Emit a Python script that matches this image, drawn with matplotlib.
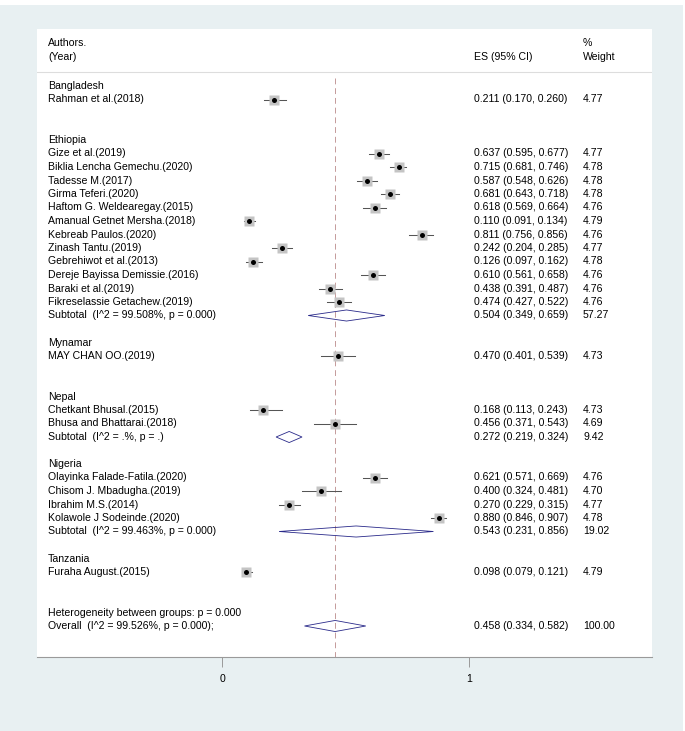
import matplotlib
matplotlib.use("Agg")
import matplotlib.pyplot as plt
from matplotlib.patches import Polygon, Rectangle

plt.rcParams['font.family'] = ['Liberation Sans', 'DejaVu Sans']

# groups in plot order
groups = ['Bangladesh', 'Ethiopia', 'Mynamar', 'Nepal', 'Nigeria', 'Tanzania']

study_names = {
    'Bangladesh': ['Rahman et al.(2018)'],
    'Ethiopia': ['Gize et al.(2019)', 'Biklia Lencha Gemechu.(2020)', 'Tadesse M.(2017)',
                 'Girma Teferi.(2020)', 'Haftom G. Weldearegay.(2015)',
                 'Amanual Getnet Mersha.(2018)', 'Kebreab Paulos.(2020)',
                 'Zinash Tantu.(2019)', 'Gebrehiwot et al.(2013)',
                 'Dereje Bayissa Demissie.(2016)', 'Baraki et al.(2019)',
                 'Fikreselassie Getachew.(2019)'],
    'Mynamar': ['MAY CHAN OO.(2019)'],
    'Nepal': ['Chetkant Bhusal.(2015)', 'Bhusa and Bhattarai.(2018)'],
    'Nigeria': ['Olayinka Falade-Fatila.(2020)', 'Chisom J. Mbadugha.(2019)',
                'Ibrahim M.S.(2014)', 'Kolawole J Sodeinde.(2020)'],
    'Tanzania': ['Furaha August.(2015)'],
}
study_es = {
    'Bangladesh': [0.211],
    'Ethiopia': [0.637, 0.715, 0.587, 0.681, 0.618, 0.110, 0.811, 0.242, 0.126, 0.610, 0.438, 0.474],
    'Mynamar': [0.470],
    'Nepal': [0.168, 0.456],
    'Nigeria': [0.621, 0.400, 0.270, 0.880],
    'Tanzania': [0.098],
}
study_lo = {
    'Bangladesh': [0.170],
    'Ethiopia': [0.595, 0.681, 0.548, 0.643, 0.569, 0.091, 0.756, 0.204, 0.097, 0.561, 0.391, 0.427],
    'Mynamar': [0.401],
    'Nepal': [0.113, 0.371],
    'Nigeria': [0.571, 0.324, 0.229, 0.846],
    'Tanzania': [0.079],
}
study_hi = {
    'Bangladesh': [0.260],
    'Ethiopia': [0.677, 0.746, 0.626, 0.718, 0.664, 0.134, 0.856, 0.285, 0.162, 0.658, 0.487, 0.522],
    'Mynamar': [0.539],
    'Nepal': [0.243, 0.543],
    'Nigeria': [0.669, 0.481, 0.315, 0.907],
    'Tanzania': [0.121],
}
study_w = {
    'Bangladesh': ['4.77'],
    'Ethiopia': ['4.77', '4.78', '4.78', '4.78', '4.76', '4.79', '4.76', '4.77', '4.78', '4.76', '4.76', '4.76'],
    'Mynamar': ['4.73'],
    'Nepal': ['4.73', '4.69'],
    'Nigeria': ['4.76', '4.70', '4.77', '4.78'],
    'Tanzania': ['4.79'],
}

# subtotals (only groups with more than one study)
sub_label = {
    'Ethiopia': 'Subtotal  (I^2 = 99.508%, p = 0.000)',
    'Nepal': 'Subtotal  (I^2 = .%, p = .)',
    'Nigeria': 'Subtotal  (I^2 = 99.463%, p = 0.000)',
}
sub_es = {'Ethiopia': 0.504, 'Nepal': 0.272, 'Nigeria': 0.543}
sub_lo = {'Ethiopia': 0.349, 'Nepal': 0.219, 'Nigeria': 0.231}
sub_hi = {'Ethiopia': 0.659, 'Nepal': 0.324, 'Nigeria': 0.856}
sub_w = {'Ethiopia': '57.27', 'Nepal': '9.42', 'Nigeria': '19.02'}

overall_es, overall_lo, overall_hi = 0.458, 0.334, 0.582
overall_label = 'Overall  (I^2 = 99.526%, p = 0.000);'
het_label = 'Heterogeneity between groups: p = 0.000'

W, H = 685, 731
fig = plt.figure(figsize=(W / 100, H / 100), dpi=100)
fig.patch.set_facecolor('#e8f0f2')
# thin white border at top / right of the original image
fig.patches.append(Rectangle((0, 1 - 5 / H), 1, 5 / H, transform=fig.transFigure,
                             facecolor='white', edgecolor='none', zorder=-1))
fig.patches.append(Rectangle((1 - 2 / W, 0), 2 / W, 1, transform=fig.transFigure,
                             facecolor='white', edgecolor='none', zorder=-1))

# white plot panel, pixel box
pl, pr, pt, pb = 37, 652, 29, 657
ax = fig.add_axes([pl / W, 1 - pb / H, (pr - pl) / W, (pb - pt) / H])
ax.set_facecolor('white')

x0_px, x1_px = 222, 469          # pixel positions of 0 and 1
row0_px, row_h = 86, 13.5


def px2x(p):
    return (p - x0_px) / (x1_px - x0_px)


ax.set_xlim(px2x(pl), px2x(pr))
ax.set_ylim((pb - row0_px) / row_h, (pt - row0_px) / row_h)

fs = 7.6
x_lab, x_es, x_w = px2x(48), px2x(474), px2x(583)
ci_col = '#555555'
dia_col = '#2a2a8a'


def txt(x, y, s):
    ax.text(x, y, s, fontsize=fs, va='center', ha='left', color='black')


def diamond(y, es, lo, hi):
    h = 0.41
    ax.add_patch(Polygon([(lo, y), (es, y - h), (hi, y), (es, y + h)], closed=True,
                         facecolor='none', edgecolor=dia_col, lw=0.6, zorder=3))


def es_str(es, lo, hi):
    return f'{es:.3f} ({lo:.3f}, {hi:.3f})'


# header
txt(x_lab, -3.2, 'Authors.')
txt(x_lab, -2.15, '(Year)')
txt(x_es, -2.15, 'ES (95% CI)')
txt(x_w, -3.2, '%')
txt(x_w, -2.15, 'Weight')
ax.axhline(-1.05, color='#dddddd', lw=0.8)

row = 0
for g in groups:
    txt(x_lab, row, g)
    row += 1
    for name, es, lo, hi, w in zip(study_names[g], study_es[g], study_lo[g],
                                   study_hi[g], study_w[g]):
        txt(x_lab, row, name)
        ax.plot([lo, hi], [row, row], color=ci_col, lw=0.75, zorder=2)
        ax.plot(es, row, marker='s', ms=6.6, color='#c4c4c4', mec='none', zorder=3)
        ax.plot(es, row, marker='o', ms=3.6, color='black', mec='none', zorder=4)
        txt(x_es, row, es_str(es, lo, hi))
        txt(x_w, row, w)
        row += 1
    if g in sub_label:
        txt(x_lab, row, sub_label[g])
        diamond(row, sub_es[g], sub_lo[g], sub_hi[g])
        txt(x_es, row, es_str(sub_es[g], sub_lo[g], sub_hi[g]))
        txt(x_w, row, sub_w[g])
    row += 2

txt(x_lab, row, het_label)
row += 1
txt(x_lab, row, overall_label)
diamond(row, overall_es, overall_lo, overall_hi)
txt(x_es, row, es_str(overall_es, overall_lo, overall_hi))
txt(x_w, row, '100.00')

# dashed overall line
ax.plot([overall_es, overall_es], [-0.6, ax.get_ylim()[0]], color='#c49a9a',
        lw=0.7, ls=(0, (6, 4)), zorder=1)

for s in ['top', 'left', 'right']:
    ax.spines[s].set_visible(False)
ax.spines['bottom'].set_color('#9a9a9a')
ax.spines['bottom'].set_linewidth(0.8)
ax.set_yticks([])
ax.set_xticks([0, 1])
ax.set_xticklabels(['0', '1'])
ax.tick_params(axis='x', length=7, width=0.7, color='#9a9a9a', pad=5, labelsize=fs)

fig.savefig('out.png', dpi=100, facecolor=fig.get_facecolor())
